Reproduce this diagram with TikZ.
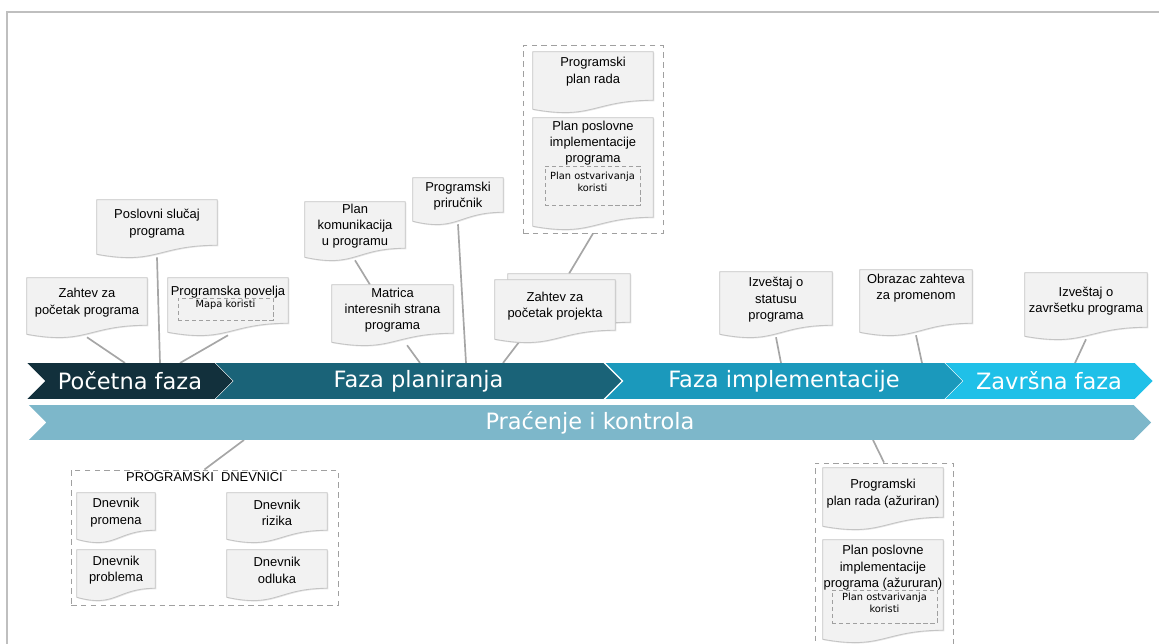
\documentclass[tikz,border=0pt]{standalone}
\usepackage{fontspec}
\setmainfont{Liberation Sans}
\newfontfamily\verdana{DejaVu Sans}
\usetikzlibrary{
fit,
calc,
positioning,
backgrounds,
shadows,
shapes.symbols
}
\definecolor{fazaPocetna}{HTML}{12303C}
\definecolor{fazaPlan}{HTML}{1A6378}
\definecolor{fazaImpl}{HTML}{1B99BC}
\definecolor{fazaZavrs}{HTML}{1FC0E8}
\definecolor{pracenje}{HTML}{7DB7CA}
\definecolor{docfill}{HTML}{F2F2F2}
\definecolor{docline}{HTML}{C4C4C4}
\definecolor{linegray}{HTML}{A6A6A6}
\definecolor{dashgray}{HTML}{A0A0A0}
\definecolor{framegray}{HTML}{BFBFBF}
\pgfdeclarelayer{lines}
\pgfsetlayers{lines,background,main}

\begin{document}
\begin{tikzpicture}
[x=0.025cm, y=0.025cm,
doc_box/.style ={rectangle, inner sep=0pt, align=center, font=\fontsize{9.2}{11.6}\selectfont},
doc_text/.style ={inner sep=0pt, align=center, font=\fontsize{9.2}{11.6}\selectfont},
doc_shape/.style ={draw=docline, fill=docfill, line width=0.6pt, drop shadow={shadow xshift=0.7pt, shadow yshift=-0.7pt, opacity=0.3, fill=black!35}},
inner_dashed/.style ={rectangle, draw=dashgray, line width=0.6pt, dash pattern=on 3pt off 2pt, inner sep=0pt, align=center, font=\verdana\fontsize{7}{8.8}\selectfont},
group_dashed/.style ={rectangle, draw=dashgray, line width=0.7pt, dash pattern=on 4pt off 3pt, inner sep=0pt},
phase/.style ={signal, signal from=west, signal to=east, signal pointer angle=90, inner sep=0pt, minimum height=25.5pt, text=white, font=\verdana\fontsize{16}{18}\selectfont},
line_conn/.style ={draw=linegray, line width=1.2pt}
]
\useasboundingbox (0,0) rectangle (1159,644);
\draw[framegray, line width=1.4pt] (7,-10) |- (1170,632);

%%%Faze%%%
\node[phase, fill=fazaPocetna, minimum width=146pt] (faza1) at (130,263) {Početna faza};
\node[phase, fill=fazaPlan, minimum width=288.4pt] (faza2) at (418.5,263) {Faza planiranja};
\node[phase, fill=fazaImpl, minimum width=253.7pt] (faza3) at (784,263) {Faza implementacije};
\node[phase, fill=fazaZavrs, minimum width=147.4pt] (faza4) at (1049,263) {Završna faza};
\node[phase, fill=pracenje, minimum width=798pt, minimum height=24.8pt] (pik) at (590,221.5) {Praćenje i kontrola};

%%%Dokumenti%%%
% (box goes 12 units into the wave)
% pocetna faza
\node[doc_box, fit={(27,366) (147,307)}] (zpp) {Zahtev za\\početak programa};
\node[doc_box, fit={(97,444) (217,387)}] (psp) {Poslovni slučaj\\programa};
\node[doc_box, fit={(168,366) (288,309)}] (pp) {};
\node[doc_text, below=5.5pt of pp.north] (pp_t) {Programska povelja};
\node[inner_dashed, fit={(178,346) (273,324)}] (mapa) {Mapa koristi};
% faza planiranja
\node[doc_box, fit={(305,442) (405,384)}] (pku) {Plan\\komunikacija\\u programu};
\node[doc_box, fit={(332,359) (453,299)}] (mis) {Matrica\\interesnih strana\\programa};
\node[doc_box, fit={(413,466) (503,420)}] (ppr) {Programski\\priručnik};
\node[doc_box, fit={(508,370) (630,310)}] (zpjb) {};
\node[doc_box, fit={(495,364) (615,302)}] (zpj) {Zahtev za\\početak projekta};
\node[group_dashed, fit={(523,598) (663,411)}] (grp1) {};
\node[doc_box, fit={(533,592) (653,532)}] (ppra) {};
\node[doc_text, below=4pt of ppra.north] (ppra_t) {Programski\\plan rada};
\node[doc_box, fit={(533,526) (653,415)}] (ppi) {};
\node[doc_text, below=2pt of ppi.north] (ppi_t) {Plan poslovne\\implementacije\\programa};
\node[inner_dashed, fit={(545,478) (640,439)}] (pok1) {Plan ostvarivanja\\koristi};
% faza implementacije, zavrsna faza
\node[doc_box, fit={(720,372) (832,307)}] (izs) {Izveštaj o\\statusu\\programa};
\node[doc_box, fit={(860,374) (972,309)}] (ozp) {};
\node[doc_text, below=3pt of ozp.north] (ozp_t) {Obrazac zahteva\\za promenom};
\node[doc_box, fit={(1025,371) (1147,305)}] (izz) {Izveštaj o\\završetku programa};
% dnevnici
\node[group_dashed, fit={(71,174) (338,39)}] (grp3) {};
\node[doc_text, below=2pt of grp3.north] (grp3_t) {PROGRAMSKI\ \ DNEVNICI};
\node[doc_box, fit={(77,151) (155,102)}] (dpro) {Dnevnik\\promena};
\node[doc_box, fit={(227,151) (327,102)}] (driz) {Dnevnik\\rizika};
\node[doc_box, fit={(77,94) (155,44)}] (dprb) {Dnevnik\\problema};
\node[doc_box, fit={(227,94) (327,44)}] (dodl) {Dnevnik\\odluka};
% azurirano
\node[group_dashed, fit={(815,181) (953,-10)}] (grp2) {};
\node[doc_box, fit={(823,176) (943,115)}] (ppra2) {Programski\\plan rada (ažuriran)};
\node[doc_box, fit={(823,104) (943,2)}] (ppi2) {};
\node[doc_text, below=4pt of ppi2.north] (ppi2_t) {Plan poslovne\\implementacije\\programa (ažururan)};
\node[inner_dashed, fit={(832,54) (937,21)}] (pok2) {Plan ostvarivanja\\koristi};

%%%Dokument-Form%%%
\begin{scope}[on background layer]
\foreach \n in {zpp,psp,pp,pku,mis,ppr,zpjb,zpj,ppra,ppi,izs,ozp,izz,dpro,driz,dprb,dodl,ppra2,ppi2}
  \draw[doc_shape] (\n.north west) -- (\n.north east) -- ($(\n.south east)+(0,12)$) .. controls ($(\n.south)+(0,12)$) and ($(\n.south)+(0,-8)$) .. ($(\n.south west)+(0,3)$) -- cycle;
\end{scope}

%%%Linije%%%
\begin{pgfonlayer}{lines}
\coordinate (b1) at (125,281);
\coordinate (b2) at (160,281);
\coordinate (b3) at (180,281);
\coordinate (b4) at (420,281);
\coordinate (b5) at (466,281);
\coordinate (b6) at (503,281);
\coordinate (b7) at (781,281);
\coordinate (b8) at (922,281);
\coordinate (b9) at (1075,281);
\coordinate (d1) at (244,204);
\coordinate (d2) at (873,204);
\draw[line_conn] (zpp.south) -- (b1);
\draw[line_conn] (psp.south) -- (b2);
\draw[line_conn] (pp.south) -- (b3);
\draw[line_conn] (pku.south) -- ($(mis.north west)!0.63!(mis.north)$);
\draw[line_conn] ($(mis.south west)!0.62!(mis.south east)$) -- (b4);
\draw[line_conn] (ppr.south) -- (b5);
\draw[line_conn] ($(zpj.south west)!0.2!(zpj.south east)$) -- (b6);
\draw[line_conn] (zpjb.north) -- (grp1.south);
\draw[line_conn] (izs.south) -- (b7);
\draw[line_conn] (ozp.south) -- (b8);
\draw[line_conn] (izz.south) -- (b9);
\draw[line_conn] (d1) -- (grp3.north);
\draw[line_conn] (d2) -- (grp2.north);
\end{pgfonlayer}

\end{tikzpicture}
\end{document}
